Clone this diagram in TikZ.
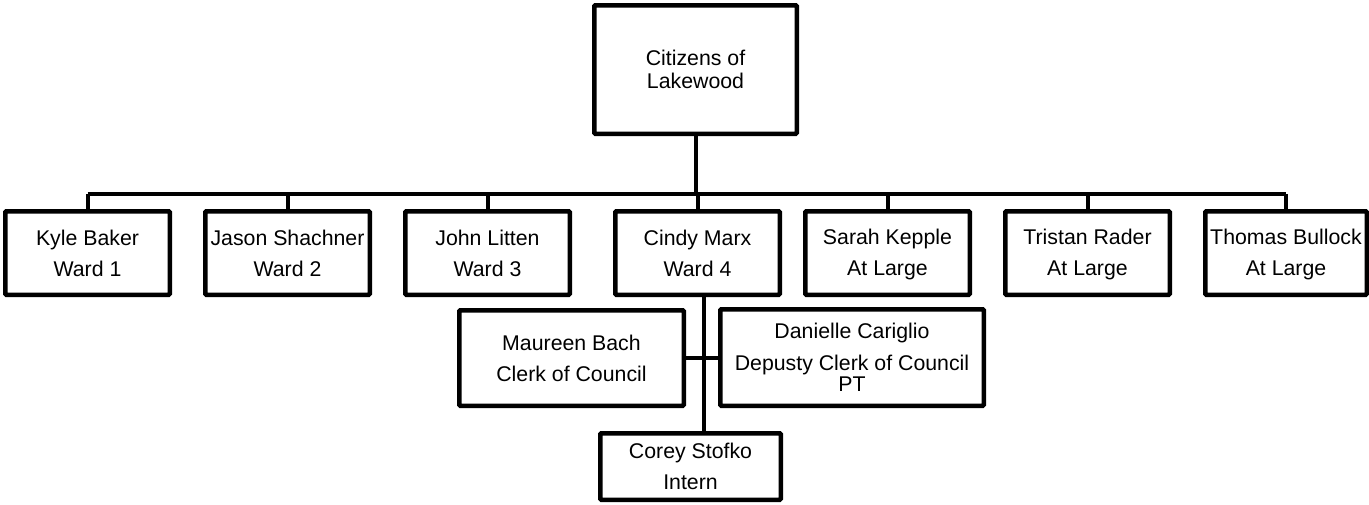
\documentclass[tikz,border=0pt]{standalone}
\usepackage{fontspec}
\setmainfont{Liberation Sans}
% balanced strut: as much room above the capitals as below the baseline
\newcommand{\rowstrut}{\rule[-4pt]{0pt}{23.2pt}}
\begin{document}
\begin{tikzpicture}[x=1pt,y=-1pt,
  orgbox/.style={draw=black,line width=4.5pt,rounded corners=1pt,fill=white,
    align=center,inner sep=1pt,font=\fontsize{21.3}{24}\selectfont},
  wardbox/.style={orgbox,minimum width=164.5pt,minimum height=83.5pt},
  link/.style={draw=black,line width=4pt}]
\useasboundingbox (0,0) rectangle (1369,504);

% top of the chart
\node[orgbox,minimum width=202.5pt,minimum height=128.5pt] (citizens) at (695.5,69.5)
  {\rowstrut Citizens of\\[-1pt]\rowstrut Lakewood};

% council members
\node[wardbox] (kyle)    at (87.5,253)   {\rowstrut Kyle Baker\\[7pt]\rowstrut Ward 1};
\node[wardbox] (jason)   at (287.5,253)  {\rowstrut Jason Shachner\\[7pt]\rowstrut Ward 2};
\node[wardbox] (john)    at (487.5,253)  {\rowstrut John Litten\\[7pt]\rowstrut Ward 3};
\node[wardbox] (cindy)   at (697.5,253)  {\rowstrut Cindy Marx\\[7pt]\rowstrut Ward 4};
\node[wardbox] (sarah)   at (887.5,253)  {\rowstrut Sarah Kepple\\[7pt]\rowstrut At Large};
\node[wardbox] (tristan) at (1087.5,253) {\rowstrut Tristan Rader\\[7pt]\rowstrut At Large};
\node[wardbox,minimum width=161.5pt] (thomas) at (1286,253) {\rowstrut Thomas Bullock\\[7pt]\rowstrut At Large};

% council staff
\node[orgbox,minimum width=224.5pt,minimum height=95.5pt] (maureen) at (571.5,358)
  {\rowstrut Maureen Bach\\[7pt]\rowstrut Clerk of Council};
\node[orgbox,minimum width=263.5pt,minimum height=96.5pt] (danielle) at (852,357.5)
  {\rowstrut Danielle Cariglio\\[8pt]\rowstrut Depusty Clerk of Council\\[-3pt]\rowstrut PT};
\node[orgbox,minimum width=180.5pt,minimum height=66.5pt] (corey) at (690.5,466.5)
  {\rowstrut Corey Stofko\\[7pt]\rowstrut Intern};

% connector layout points
\coordinate (bar) at (0,194);
\coordinate (spine) at (703.5,357);

% connectors
\draw[link] (citizens.south) -- (citizens.south |- bar);
\draw[link] (kyle.north |- bar) -- (thomas.north |- bar);
\foreach \n in {kyle,jason,john,cindy,sarah,tristan,thomas}
  \draw[link] (\n.north |- bar) -- (\n.north);
\draw[link] (cindy.south -| spine) -- (corey.north -| spine);
\draw[link] (maureen.east) -- (maureen.east -| danielle.west);
\end{tikzpicture}
\end{document}
